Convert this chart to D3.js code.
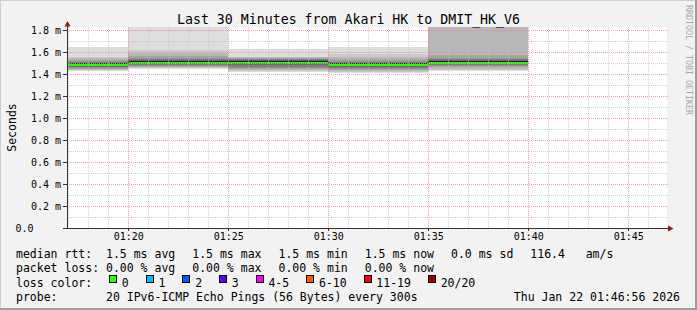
<!DOCTYPE html>
<html>
<head>
<meta charset="utf-8">
<script src="https://cdn.jsdelivr.net/npm/d3@7"></script>
<style>
  body { margin: 0; background: #f2f2f2; }
  text { font-family: "DejaVu Sans Mono", monospace; white-space: pre; }
</style>
</head>
<body>
<div id="chart"></div>
<script>
/* SmokePing style latency chart: Akari HK -> DMIT_HK_V6 */

// rrd step end times (each step covers the 5 minutes before it)
const times = ["01:20", "01:25", "01:30", "01:35", "01:40"];
const medians = [1.486, 1.509, 1.509, 1.486, 1.507]; // ms

// 20 sorted ping rtts (ms) per step, values above 1.8 are off the chart
const pings0120 = [1.425, 1.433, 1.440, 1.448, 1.455, 1.462, 1.468, 1.474, 1.479, 1.484,
                   1.488, 1.492, 1.497, 1.503, 1.510, 1.518, 1.530, 1.545, 1.555, 1.648];
const pings0125 = [1.443, 1.452, 1.460, 1.468, 1.476, 1.482, 1.488, 1.495, 1.502, 1.507,
                   1.511, 1.516, 1.522, 1.530, 1.540, 1.550, 1.565, 1.590, 1.615, 1.900];
const pings0130 = [1.415, 1.425, 1.437, 1.448, 1.458, 1.468, 1.478, 1.488, 1.497, 1.505,
                   1.511, 1.516, 1.521, 1.526, 1.532, 1.538, 1.545, 1.551, 1.557, 1.625];
const pings0135 = [1.405, 1.418, 1.430, 1.440, 1.450, 1.458, 1.466, 1.473, 1.479, 1.484,
                   1.488, 1.492, 1.497, 1.503, 1.510, 1.520, 1.535, 1.555, 1.579, 1.648];
const pings0140 = [1.430, 1.440, 1.450, 1.460, 1.470, 1.479, 1.487, 1.494, 1.500, 1.505,
                   1.509, 1.513, 1.518, 1.525, 1.535, 1.550, 1.575, 1.900, 1.950, 2.000];
const pings = [pings0120, pings0125, pings0130, pings0135, pings0140];

const yTicks = [0, 0.2, 0.4, 0.6, 0.8, 1.0, 1.2, 1.4, 1.6, 1.8];
const endTime = "01:46:56";

// legend values
const statNames = ["avg", "max", "min", "now"];
const rttStats = [1.5, 1.5, 1.5, 1.5];
const lossStats = [0, 0, 0, 0];
const rttSd = 0.0, amS = 116.4;
const lossLabels = ["0", "1", "2", "3", "4-5", "6-10", "11-19", "20/20"];
const lossColors = ["#26ff00", "#00b8ff", "#0059ff", "#5e00ff", "#ff00ff", "#ff5500", "#ff0000", "#a00000"];

const width = 697, height = 310,
      plot = ({ left: 67, right: 667, top: 27, bottom: 228 });

let svg = d3.select("#chart")
    .append("svg")
    .attr("width", width)
    .attr("height", height);

// frame: light top/left, dark bottom/right
svg.append("rect").attr("width", width).attr("height", height).attr("fill", "#f2f2f2");
svg.append("path").attr("d", `M0,${height} V0 H${width}`).attr("fill", "none")
    .attr("stroke", "#cfcfcf").attr("stroke-width", 2);
svg.append("path").attr("d", `M0,${height - 1} H${width - 1} V0`).attr("fill", "none")
    .attr("stroke", "#9e9e9e").attr("stroke-width", 2);

const parse = d3.timeParse("%H:%M"),
      parseEnd = d3.timeParse("%H:%M:%S");
const end = parseEnd(endTime),
      start = d3.timeMinute.offset(end, -30);

let x = d3.scaleTime()
    .domain([start, end])
    .range([plot.left, plot.right]);

let y = d3.scaleLinear()
    .domain([0, 1.8])
    .range([plot.bottom, 30]);

// white canvas
svg.append("rect")
    .attr("x", plot.left).attr("y", plot.top)
    .attr("width", plot.right - plot.left).attr("height", plot.bottom - plot.top)
    .attr("fill", "white");

svg.append("clipPath").attr("id", "clip")
    .append("rect")
    .attr("x", plot.left).attr("y", plot.top)
    .attr("width", plot.right - plot.left).attr("height", plot.bottom - plot.top);

let g = svg.append("g").attr("clip-path", "url(#clip)");

// smoke: band k spans ping k .. ping (21-k), darker toward the middle
const half = 10;
let bands = [];
times.forEach((t, i) => {
    const t1 = parse(t), t0 = d3.timeMinute.offset(t1, -5);
    for (let k = 1; k <= half; k++) {
        bands.push({ t0, t1, lo: pings[i][k - 1], hi: pings[i][20 - k],
                     shade: Math.floor(190 / half * (half - k)) + 50 });
    }
});

g.selectAll(".smoke")
    .data(bands)
    .join("rect")
    .attr("class", "smoke")
    .attr("x", d => x(d.t0))
    .attr("width", d => x(d.t1) - x(d.t0))
    .attr("y", d => y(d.hi))
    .attr("height", d => y(d.lo) - y(d.hi))
    .attr("fill", d => d3.rgb(d.shade, d.shade, d.shade))
    .attr("shape-rendering", "crispEdges");

// median: dark step line with the loss-colour band under it
let medPts = [];
times.forEach((t, i) => {
    const t1 = parse(t), t0 = d3.timeMinute.offset(t1, -5);
    medPts.push([t0, medians[i]], [t1, medians[i]]);
});

g.selectAll(".med")
    .data(medPts.filter((d, i) => i % 2 === 0))
    .join("rect")
    .attr("class", "med")
    .attr("x", d => x(d[0]))
    .attr("width", d => x(d3.timeMinute.offset(d[0], 5)) - x(d[0]))
    .attr("y", d => y(d[1]) - 1)
    .attr("height", 2.4)
    .attr("fill", lossColors[0]);

g.append("path")
    .attr("d", d3.line().x(d => x(d[0])).y(d => Math.round(y(d[1]) - 1.5) + 0.5)(medPts))
    .attr("fill", "none")
    .attr("stroke", "#202020")
    .attr("stroke-width", 1);

// grid on top of data, dotted
const minorY = d3.range(1, 19).map(v => v / 10).filter(v => !yTicks.some(t => Math.abs(t - v) < 1e-9)),
      minorX = d3.timeMinute.range(start, end).filter(d => d.getMinutes() % 5 !== 0),
      majorX = d3.timeMinute.every(5).range(start, end);

let grid = svg.append("g")
    .attr("stroke-dasharray", "1,1")
    .attr("shape-rendering", "crispEdges")
    .attr("stroke-width", 1);

grid.selectAll(".hminor").data(minorY).join("line")
    .attr("x1", plot.left).attr("x2", plot.right + 1)
    .attr("y1", d => Math.round(y(d)) + 0.5).attr("y2", d => Math.round(y(d)) + 0.5)
    .attr("stroke", "rgba(191,191,191,0.75)");
grid.selectAll(".vminor").data(minorX).join("line")
    .attr("x1", d => Math.round(x(d)) + 0.5).attr("x2", d => Math.round(x(d)) + 0.5)
    .attr("y1", plot.top).attr("y2", plot.bottom)
    .attr("stroke", "rgba(191,191,191,0.75)");
grid.selectAll(".hmajor").data(yTicks.filter(v => v > 0)).join("line")
    .attr("x1", plot.left).attr("x2", plot.right + 1)
    .attr("y1", d => Math.round(y(d)) + 0.5).attr("y2", d => Math.round(y(d)) + 0.5)
    .attr("stroke", "rgba(230,128,128,0.75)");
grid.selectAll(".vmajor").data(majorX).join("line")
    .attr("x1", d => Math.round(x(d)) + 0.5).attr("x2", d => Math.round(x(d)) + 0.5)
    .attr("y1", plot.top).attr("y2", plot.bottom)
    .attr("stroke", "rgba(230,128,128,0.75)");

// axes
let yAxis = svg.append("g")
    .attr("transform", `translate(${plot.left},0)`)
    .call(d3.axisLeft(y).tickValues(yTicks).tickSize(4).tickPadding(2)
        .tickFormat(v => v === 0 ? "0.0" : v.toFixed(1) + " m"));
yAxis.select(".domain").remove();
yAxis.selectAll("line").attr("stroke", "#333").attr("shape-rendering", "crispEdges");
yAxis.selectAll("text")
    .attr("font-family", "DejaVu Sans Mono").attr("font-size", 10).attr("fill", "#000")
    .filter(d => d === 0).attr("dx", -27.5);

let xAxis = svg.append("g")
    .attr("transform", `translate(0,${plot.bottom})`)
    .call(d3.axisBottom(x).tickValues(majorX).tickSize(3).tickPadding(1.5)
        .tickFormat(d3.timeFormat("%H:%M")));
xAxis.select(".domain").remove();
xAxis.selectAll("line").attr("stroke", "#333").attr("shape-rendering", "crispEdges");
xAxis.selectAll("text")
    .attr("font-family", "DejaVu Sans Mono").attr("font-size", 10).attr("fill", "#000");

// axis lines with arrows
svg.append("path")
    .attr("d", `M${plot.left + 0.5},${plot.bottom} V${plot.top - 2}`)
    .attr("stroke", "#333").attr("fill", "none");
svg.append("path")
    .attr("d", `M${plot.left},${plot.bottom + 0.5} H${plot.right + 2}`)
    .attr("stroke", "#333").attr("fill", "none");
svg.append("path")
    .attr("d", `M${plot.left - 2.5},${plot.top - 0.5} L${plot.left + 3.5},${plot.top - 0.5} L${plot.left + 0.5},${plot.top - 6} Z`)
    .attr("fill", "#8b1a1a");
svg.append("path")
    .attr("d", `M${plot.right + 1},${plot.bottom - 2.5} L${plot.right + 1},${plot.bottom + 3.5} L${plot.right + 6.5},${plot.bottom + 0.5} Z`)
    .attr("fill", "#8b1a1a");

// titles
svg.append("text")
    .text("Last 30 Minutes from Akari HK to DMIT_HK_V6")
    .attr("x", 348.5).attr("y", 24)
    .attr("text-anchor", "middle")
    .attr("font-size", 13.25);

svg.append("text")
    .text("Seconds")
    .attr("transform", `translate(15.5,${(plot.top + plot.bottom) / 2}) rotate(-90)`)
    .attr("text-anchor", "middle")
    .attr("font-size", 11.5);

svg.append("text")
    .text("RRDTOOL / TOBI OETIKER")
    .attr("transform", "translate(685.5,5) rotate(90)")
    .attr("font-size", 8.3)
    .attr("fill", "#a8a8a8");

// legend rows
const rowY = [257.5, 272, 286.5, 301], legLeft = 16, gap = 17, fs = 11.5;

function row(items, yy) {
    let xx = legLeft;
    for (let s of items) {
        let t = svg.append("text").text(s).attr("x", xx).attr("y", yy).attr("font-size", fs);
        xx += t.node().getComputedTextLength() + gap;
    }
}

row([`median rtt:  ${rttStats[0].toFixed(1)} ms ${statNames[0]}`]
        .concat(statNames.slice(1).map((n, i) => `${rttStats[i + 1].toFixed(1)} ms ${n}`))
        .concat([`${rttSd.toFixed(1)} ms sd`, `${amS.toFixed(1)}   am/s`]), rowY[0]);

row([`packet loss: ${lossStats[0].toFixed(2)} % ${statNames[0]}`]
        .concat(statNames.slice(1).map((n, i) => `${lossStats[i + 1].toFixed(2)} % ${n}`)), rowY[1]);

// loss colour swatches
let lx = legLeft;
let lt = svg.append("text").text("loss color:").attr("x", lx).attr("y", rowY[2]).attr("font-size", fs);
lx += lt.node().getComputedTextLength() + gap;
lossLabels.forEach((lab, i) => {
    svg.append("rect")
        .attr("x", lx + 0.5).attr("y", rowY[2] - 11)
        .attr("width", 7).attr("height", 7)
        .attr("fill", lossColors[i]).attr("stroke", "#000")
        .attr("shape-rendering", "crispEdges");
    let t = svg.append("text").text(lab).attr("x", lx + 12.7).attr("y", rowY[2]).attr("font-size", fs);
    lx += 12.7 + t.node().getComputedTextLength() + gap;
});

svg.append("text")
    .text("probe:       20 IPv6-ICMP Echo Pings (56 Bytes) every 300s")
    .attr("x", legLeft).attr("y", rowY[3]).attr("font-size", fs);
svg.append("text")
    .text("Thu Jan 22 01:46:56 2026")
    .attr("x", 680).attr("y", rowY[3]).attr("text-anchor", "end").attr("font-size", fs);
</script>
</body>
</html>
